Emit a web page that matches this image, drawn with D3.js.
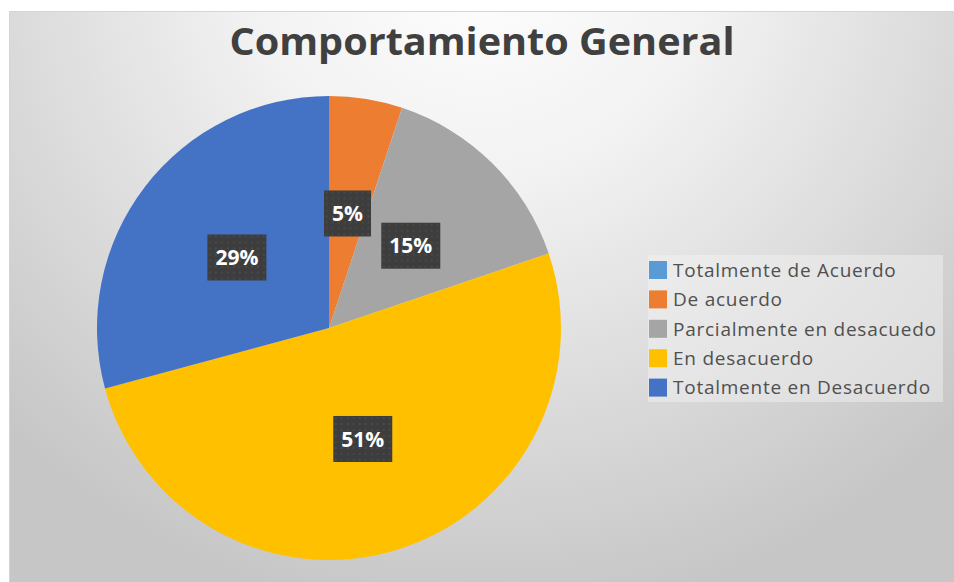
<!DOCTYPE html>
<html>
<head>
<meta charset="utf-8">
<script src="https://cdn.jsdelivr.net/npm/d3@7"></script>
<style>
  body { margin: 0; background: #fff; }
  svg { display: block; }
</style>
</head>
<body>
<svg id="chart" width="954" height="582"></svg>
<script>
"use strict";

var categories = ["Totalmente de Acuerdo", "De acuerdo", "Parcialmente en desacuedo", "En desacuerdo", "Totalmente en Desacuerdo"];
var values = [0, 5.1, 14.7, 51.0, 29.2];
var labels = ["0%", "5%", "15%", "51%", "29%"];
var colors = ["#5B9BD5", "#ED7D31", "#A5A5A5", "#FFC000", "#4472C4"];
var title = "Comportamiento General";

var svg = d3.select("#chart"),
    width = +svg.attr("width"),
    height = +svg.attr("height");

var defs = svg.append("defs");

// background gradient (white at top, grey at bottom)
var grad = defs.append("radialGradient")
    .attr("id", "bg")
    .attr("gradientUnits", "userSpaceOnUse")
    .attr("cx", 480).attr("cy", -60).attr("r", 680);
grad.append("stop").attr("offset", "0%").attr("stop-color", "#ffffff");
grad.append("stop").attr("offset", "35%").attr("stop-color", "#f2f2f2");
grad.append("stop").attr("offset", "100%").attr("stop-color", "#c6c6c6");

// dotted texture for label boxes
var pat = defs.append("pattern")
    .attr("id", "dots")
    .attr("patternUnits", "userSpaceOnUse")
    .attr("width", 6).attr("height", 6);
pat.append("rect").attr("width", 6).attr("height", 6).attr("fill", "#3d3d3d");
pat.append("circle").attr("cx", 3).attr("cy", 3).attr("r", 0.8).attr("fill", "#555555");

svg.append("rect")
    .attr("x", 9.5).attr("y", 11.5)
    .attr("width", width).attr("height", height)
    .attr("fill", "url(#bg)")
    .attr("stroke", "#d4d4d4");

svg.append("text")
    .attr("x", 482)
    .attr("y", 55)
    .attr("text-anchor", "middle")
    .attr("font-family", "'Open Sans', sans-serif")
    .attr("font-weight", "bold")
    .attr("font-size", 38)
    .attr("fill", "#404040")
    .attr("textLength", 505)
    .attr("lengthAdjust", "spacingAndGlyphs")
    .text(title);

var cx = 329, cy = 328, radius = 232;

var pie = d3.pie().sort(null).value(function(d) { return d; });
var arcs = pie(values);

var arc = d3.arc().innerRadius(0).outerRadius(radius);
var labelArc = d3.arc().innerRadius(radius * 0.5).outerRadius(radius * 0.5);

var g = svg.append("g").attr("transform", "translate(" + cx + "," + cy + ")");

g.selectAll("path.slice")
    .data(arcs)
  .enter().append("path")
    .attr("class", "slice")
    .attr("fill", function(d, i) { return colors[i]; })
    .attr("d", arc);

// data labels (skip empty slice)
var lab = g.selectAll("g.label")
    .data(arcs.filter(function(d) { return d.value > 0; }))
  .enter().append("g")
    .attr("class", "label")
    .attr("transform", function(d) { return "translate(" + labelArc.centroid(d) + ")"; });

lab.append("rect")
    .attr("fill", "url(#dots)");

lab.append("text")
    .attr("text-anchor", "middle")
    .attr("dy", "0.36em")
    .attr("font-family", "'Open Sans', sans-serif")
    .attr("font-weight", "bold")
    .attr("font-size", 21)
    .attr("fill", "#ffffff")
    .text(function(d) { return labels[d.index]; });

lab.each(function() {
  var t = d3.select(this).select("text").node().getBBox();
  var w = t.width + 16, h = 46;
  d3.select(this).select("rect")
      .attr("x", -w / 2).attr("y", -h / 2)
      .attr("width", w).attr("height", h);
});

// legend
var legX = 649, legY = 261, step = 29.4;
svg.append("rect")
    .attr("x", 648).attr("y", 255)
    .attr("width", 295).attr("height", 147)
    .attr("fill", "#f4f4f4")
    .attr("opacity", 0.45);

var leg = svg.selectAll("g.legend")
    .data(categories)
  .enter().append("g")
    .attr("class", "legend")
    .attr("transform", function(d, i) { return "translate(" + legX + "," + (legY + i * step) + ")"; });

leg.append("rect")
    .attr("width", 18).attr("height", 18)
    .attr("fill", function(d, i) { return colors[i]; });

leg.append("text")
    .attr("x", 24)
    .attr("y", 9)
    .attr("dy", "0.36em")
    .attr("font-family", "'Open Sans', sans-serif")
    .attr("font-size", 19)
    .attr("letter-spacing", 0.75)
    .attr("fill", "#505050")
    .text(function(d) { return d; });
</script>
</body>
</html>
